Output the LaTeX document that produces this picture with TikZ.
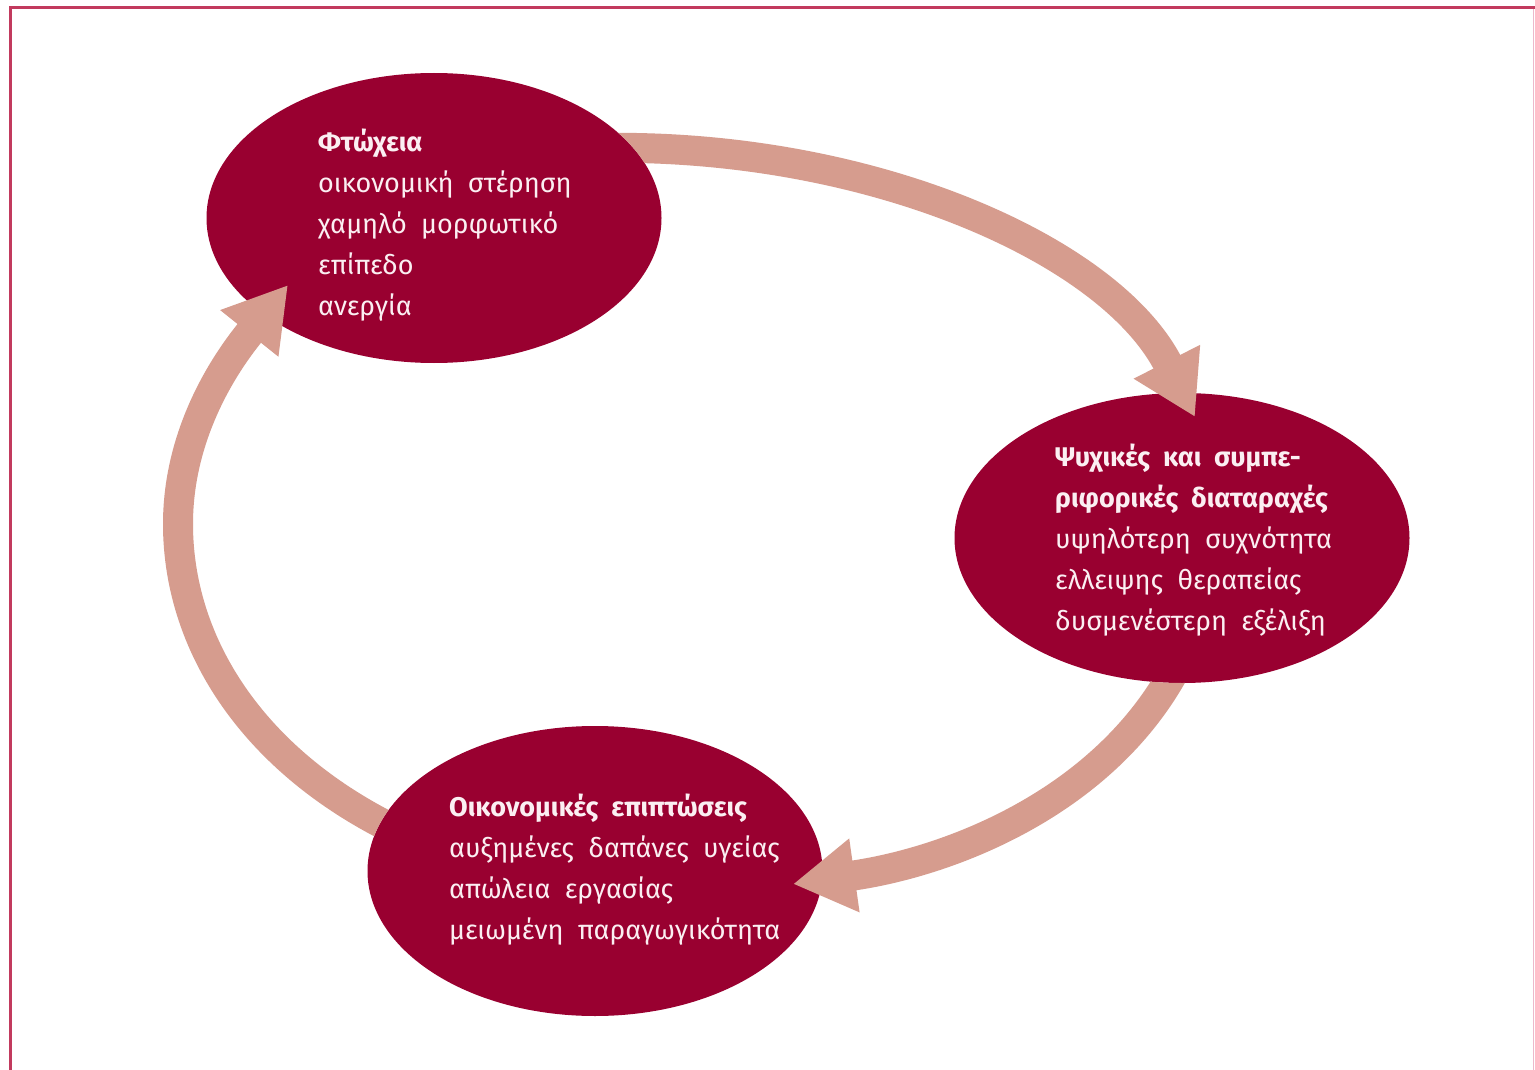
\documentclass[tikz,border=0pt]{standalone}
\usepackage{fontspec}
\setmainfont{Fira Sans}
\usetikzlibrary{shapes.geometric,arrows.meta}
\definecolor{crim}{HTML}{990030}
\definecolor{salmon}{HTML}{D69C8E}
\definecolor{framered}{HTML}{C23A5E}
\definecolor{framepink}{HTML}{EDB8CB}
\definecolor{txt}{HTML}{FBEFF2}
\tikzset{
  blob/.style={ellipse,fill=crim,draw=none,minimum width=455pt,minimum height=290pt,inner sep=0pt},
  label/.style={anchor=north west,inner sep=0pt,align=left,text=txt,font=\fontsize{27}{41}\selectfont},
  cyclearrow/.style={draw=salmon,line width=30pt,-{Triangle[length=62pt,width=70pt]}}
}
\begin{document}
\begin{tikzpicture}[x=1pt,y=-1pt]
\useasboundingbox (0,0) rectangle (1535,1070);
\fill[white] (0,0) rectangle (1535,1070);
% frame
\draw[framered,line width=3pt] (10,1070) -- (10,8) -- (1535,8);
\draw[framepink,line width=1.2pt] (1533.5,9) -- (1533.5,1070);
% ellipses
\node[blob] (pov) at (434,218) {};
\node[blob] (psy) at (1182,538) {};
\node[blob] (eco) at (595,871) {};
% texts
\node[label] (povt) at (318,129) {\textbf{Φτώχεια}\\οικονομική \ στέρηση\\χαμηλό \ μορφωτικό\\επίπεδο\\ανεργία};
\node[label] (psyt) at (1055,444) {\textbf{Ψυχικές \ και \ συμπε-}\\\textbf{ριφορικές \ διαταραχές}\\υψηλότερη \ συχνότητα\\ελλειψης \ θεραπείας\\δυσμενέστερη \ εξέλιξη};
\node[label] (ecot) at (449,794) {\textbf{Οικονομικές \ επιπτώσεις}\\αυξημένες \ δαπάνες \ υγείας\\απώλεια \ εργασίας\\μειωμένη \ παραγωγικότητα};
% arrows (each one hidden inside the ellipse it leaves)
\coordinate (a1s) at (600,148);
\coordinate (a1e) at (1195,417);
\coordinate (a2s) at (1184,652);
\coordinate (a2e) at (793,884);
\coordinate (a3s) at (412,838);
\coordinate (a3m) at (178,524);
\coordinate (a3e) at (288,285);
\begin{scope}[even odd rule]
\clip (0,0) rectangle (1535,1070) (pov.center) ellipse [x radius=227.5,y radius=145];
\draw[cyclearrow] (a1s) .. controls (870,143) and (1110,250) .. (a1e);
\end{scope}
\begin{scope}[even odd rule]
\clip (0,0) rectangle (1535,1070) (psy.center) ellipse [x radius=227.5,y radius=145];
\draw[cyclearrow] (a2s) .. controls (1115,800) and (950,862) .. (a2e);
\end{scope}
\begin{scope}[even odd rule]
\clip (0,0) rectangle (1535,1070) (eco.center) ellipse [x radius=227.5,y radius=145];
\draw[cyclearrow] (a3s) .. controls (260,770) and (178,650) .. (a3m) .. controls (178,420) and (240,345) .. (a3e);
\end{scope}
\end{tikzpicture}
\end{document}
